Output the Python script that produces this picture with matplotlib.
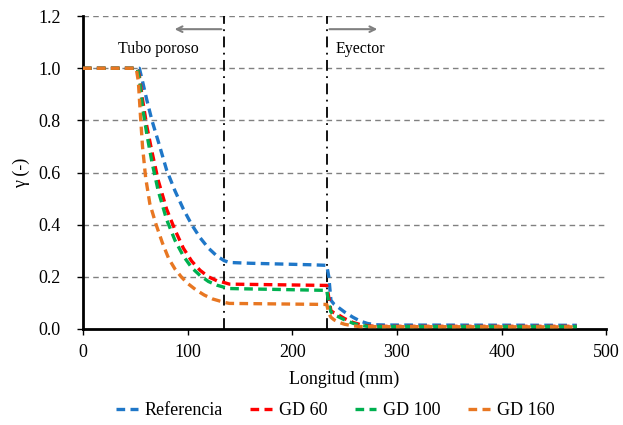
import matplotlib
matplotlib.use("Agg")
import matplotlib.pyplot as plt

plt.rcParams['font.family'] = ['Liberation Serif', 'DejaVu Serif']

# Data
ref_x = [0, 52, 54, 57, 61, 66, 72, 80, 88, 96, 104, 112, 120, 128, 135, 140, 160, 180, 200, 220, 233, 235, 237, 240, 245, 250, 258, 265, 272, 280, 290, 472]
ref_y = [1.0, 1.0, 1.0, 0.95, 0.88, 0.80, 0.72, 0.61, 0.53, 0.46, 0.40, 0.35, 0.31, 0.28, 0.262, 0.255, 0.252, 0.25, 0.248, 0.246, 0.244, 0.20, 0.11, 0.095, 0.08, 0.065, 0.045, 0.03, 0.021, 0.016, 0.015, 0.014]

gd60_x = [0, 52, 54, 57, 61, 66, 72, 80, 88, 96, 104, 112, 120, 128, 135, 140, 233, 235, 237, 240, 245, 250, 258, 265, 272, 280, 472]
gd60_y = [1.0, 1.0, 0.97, 0.88, 0.78, 0.68, 0.57, 0.46, 0.38, 0.31, 0.26, 0.225, 0.20, 0.185, 0.178, 0.172, 0.167, 0.12, 0.07, 0.062, 0.052, 0.04, 0.025, 0.017, 0.012, 0.01, 0.01]

gd100_x = [0, 52, 54, 57, 61, 66, 72, 80, 88, 96, 104, 112, 120, 128, 135, 140, 233, 235, 237, 240, 245, 250, 258, 265, 272, 280, 472]
gd100_y = [1.0, 1.0, 0.96, 0.85, 0.75, 0.64, 0.53, 0.42, 0.34, 0.28, 0.235, 0.205, 0.182, 0.168, 0.16, 0.155, 0.148, 0.10, 0.065, 0.055, 0.045, 0.035, 0.022, 0.014, 0.01, 0.009, 0.009]

gd160_x = [0, 51, 53, 55, 57, 60, 64, 70, 76, 82, 88, 94, 100, 108, 116, 124, 130, 135, 140, 233, 235, 237, 240, 245, 250, 258, 265, 472]
gd160_y = [1.0, 1.0, 0.95, 0.82, 0.70, 0.58, 0.48, 0.40, 0.33, 0.27, 0.23, 0.20, 0.175, 0.15, 0.13, 0.115, 0.108, 0.102, 0.098, 0.094, 0.06, 0.045, 0.035, 0.025, 0.018, 0.012, 0.009, 0.008]

series = [
    ("Referencia", ref_x, ref_y, "#1f77c8"),
    ("GD 60", gd60_x, gd60_y, "#ff0000"),
    ("GD 100", gd100_x, gd100_y, "#00b050"),
    ("GD 160", gd160_x, gd160_y, "#e87722"),
]

boundaries = [135, 233]

fig = plt.figure(figsize=(6.23, 4.25), dpi=100)
ax = fig.add_axes([0.133, 0.226, 0.840, 0.736])

for y in [0.2, 0.4, 0.6, 0.8, 1.0, 1.2]:
    ax.axhline(y, color="#808080", lw=1.0, ls=(0, (4, 3)), zorder=1)

for b in boundaries:
    ax.plot([b, b], [0, 1.2], color="black", lw=1.3, ls=(0, (6, 3, 1, 3)), zorder=2)

for name, xs, ys, c in series:
    ax.plot(xs, ys, color=c, lw=2.4, ls=(0, (2.6, 1.6)), label=name, zorder=3)

ax.annotate("", xy=(85, 1.15), xytext=(135, 1.15),
            arrowprops=dict(arrowstyle="->", color="#808080", lw=1.5))
ax.annotate("", xy=(284, 1.15), xytext=(233, 1.15),
            arrowprops=dict(arrowstyle="->", color="#808080", lw=1.5))
ax.text(72, 1.075, "Tubo poroso", ha="center", va="center", fontsize=11.5)
ax.text(265, 1.075, "Eyector", ha="center", va="center", fontsize=11.5)

ax.set_xlim(0, 500)
ax.set_ylim(0, 1.2)
ax.set_xticks([0, 100, 200, 300, 400, 500])
ax.set_yticks([0.0, 0.2, 0.4, 0.6, 0.8, 1.0, 1.2])
ax.set_yticklabels([f"{v:.1f}" for v in [0.0, 0.2, 0.4, 0.6, 0.8, 1.0, 1.2]])
ax.tick_params(direction="out", length=4, width=1, labelsize=13)
ax.tick_params(axis="x", pad=7)
ax.tick_params(axis="y", pad=12)
for s in ["top", "right"]:
    ax.spines[s].set_visible(False)
for s in ["left", "bottom"]:
    ax.spines[s].set_linewidth(2)
ax.set_xlabel("Longitud (mm)", fontsize=13, labelpad=7)
ax.set_ylabel("γ (-)", fontsize=13, labelpad=6)

fig.legend(loc="center", bbox_to_anchor=(0.538, 0.033), ncol=4, frameon=False,
           fontsize=13, handlelength=1.2, columnspacing=1.5, handletextpad=0.4)

fig.savefig("out.png", dpi=100)
